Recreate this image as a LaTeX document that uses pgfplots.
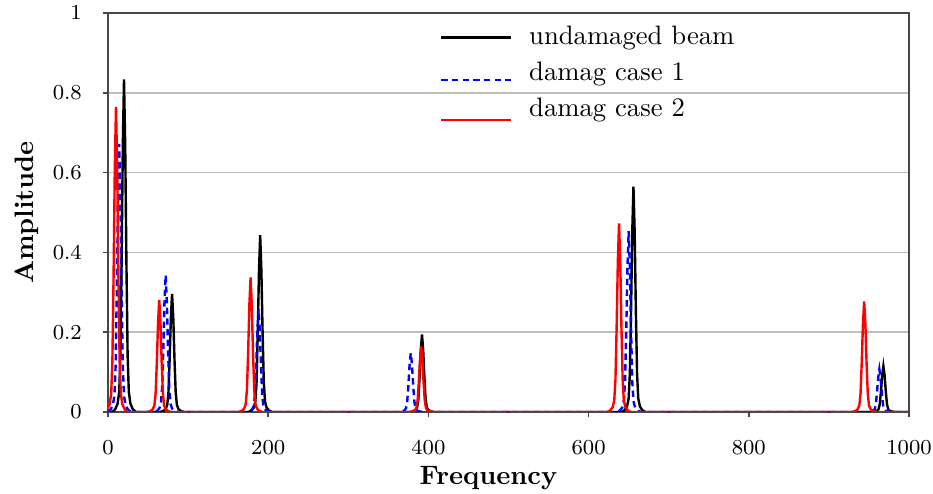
\documentclass[border=0pt]{standalone}
\usepackage{pgfplots}
\pgfplotsset{compat=1.18}
\pgfplotsset{
  limgA/.style={legend image code/.code={\draw[##1] (0pt,0pt) -- (26pt,0pt);}},
  limgB/.style={legend image code/.code={\draw[##1] (0pt,-2.6pt) -- (26pt,-2.6pt);}},
  limgC/.style={legend image code/.code={\draw[##1] (0pt,-4pt) -- (26pt,-4pt);}},
}
\begin{document}
\begin{tikzpicture}
\useasboundingbox (-40.5pt,-30.4pt) rectangle (309.4pt,154.5pt);
\begin{axis}[
  scale only axis,
  width=300.4pt, height=149.6pt,
  xmin=0, xmax=1000, ymin=0, ymax=1,
  xtick={0,200,400,600,800,1000},
  ytick={0,0.2,0.4,0.6,0.8,1},
  /pgf/number format/set thousands separator={},
  tick align=outside,
  xtick pos=bottom, ytick pos=left,
  major tick length=2pt,
  axis line style={draw=black!72, line width=0.75pt},
  tick style={draw=black!72, line width=0.6pt},
  ymajorgrids,
  major grid style={draw=black!25, line width=0.6pt},
  ticklabel style={font=\fontsize{8}{9}\selectfont},
  xticklabel style={yshift=-5.3pt},
  yticklabel style={xshift=-4.3pt},
  xlabel={\bfseries Frequency},
  ylabel={\bfseries Amplitude},
  xlabel style={at={(axis description cs:0.475,-0.165)}, anchor=center},
  ylabel style={at={(axis description cs:-0.101,0.5)}, anchor=center},
  legend style={at={(rel axis cs:0.404,0.995)}, anchor=north west, draw=none, fill=none,
    font=\normalsize, row sep=1pt, /tikz/every odd column/.append style={column sep=4.5pt}},
  legend cell align=left,
]
\addplot[black, line width=0.9pt, limgA] coordinates {
(0,0) (5,0) (9,.0067) (12,.0209) (14,.05) (15.5,.1418) (17,.3753) (18.5,.6672) (20,.834) (21.5,.6672) (23,.3753) (24.5,.1418) (26,.05) (28,.0209) (31,.0067) (35,0)
(65,0)(69,.0024)(72,.0074)(74,.0178)(75.5,.0503)(77,.1332)(78.5,.2368)(80,.296)(81.5,.2368)(83,.1332)(84.5,.0503)(86,.0178)(88,.0074)(91,.0024)(95,0)
(175,0)(179,.0035)(182,.0111)(184,.0266)(185.5,.0753)(187,.1994)(188.5,.3544)(190,.443)(191.5,.3544)(193,.1994)(194.5,.0753)(196,.0266)(198,.0111)(201,.0035)(205,0)
(377,0)(381,.0016)(384,.0049)(386,.0116)(387.5,.033)(389,.0873)(390.5,.1552)(392,.194)(393.5,.1552)(395,.0873)(396.5,.033)(398,.0116)(400,.0049)(403,.0016)(407,0)
(641,0)(645,.0045)(648,.0141)(650,.0339)(651.5,.0961)(653,.2543)(654.5,.452)(656,.565)(657.5,.452)(659,.2543)(660.5,.0961)(662,.0339)(664,.0141)(667,.0045)(671,0)
(953,0)(957,.0009)(960,.0029)(962,.0069)(963.5,.0196)(965,.0518)(966.5,.092)(968,.115)(969.5,.092)(971,.0518)(972.5,.0196)(974,.0069)(976,.0029)(979,.0009)(983,0)(1000,0)
};
\addlegendentry{undamaged beam}
\addplot[blue, line width=0.9pt, dash pattern=on 2.4pt off 1.6pt, limgB] coordinates {
(0,0)(3,.0054)(6,.0168)(8,.0403)(9.5,.1142)(11,.3024)(12.5,.5376)(14,.672)(15.5,.5376)(17,.3024)(18.5,.1142)(20,.0403)(22,.0168)(25,.0054)(29,0)
(57,0)(61,.0027)(64,.0086)(66,.0206)(67.5,.0583)(69,.1544)(70.5,.2744)(72,.343)(73.5,.2744)(75,.1544)(76.5,.0583)(78,.0206)(80,.0086)(83,.0027)(87,0)
(173,0)(177,.0021)(180,.0064)(182,.0154)(183.5,.0437)(185,.1157)(186.5,.2056)(188,.257)(189.5,.2056)(191,.1157)(192.5,.0437)(194,.0154)(196,.0064)(199,.0021)(203,0)
(363,0)(367,.0012)(370,.0037)(372,.0089)(373.5,.0252)(375,.0666)(376.5,.1184)(378,.148)(379.5,.1184)(381,.0666)(382.5,.0252)(384,.0089)(386,.0037)(389,.0012)(393,0)
(635,0)(639,.0036)(642,.0113)(644,.0272)(645.5,.077)(647,.2039)(648.5,.3624)(650,.453)(651.5,.3624)(653,.2039)(654.5,.077)(656,.0272)(658,.0113)(661,.0036)(665,0)
(948,0)(952,.0009)(955,.0027)(957,.0064)(958.5,.0182)(960,.0482)(961.5,.0856)(963,.107)(964.5,.0856)(966,.0482)(967.5,.0182)(969,.0064)(971,.0027)(974,.0009)(978,0)(1000,0)
};
\addlegendentry{damag case 1}
\addplot[red, line width=0.9pt, limgC] coordinates {
(-5,0)(-1,.0061)(2,.0191)(4,.0459)(5.5,.1301)(7,.3443)(8.5,.612)(10,.765)(11.5,.612)(13,.3443)(14.5,.1301)(16,.0459)(18,.0191)(21,.0061)(25,0)
(49,0)(53,.0022)(56,.007)(58,.0169)(59.5,.0478)(61,.1265)(62.5,.2248)(64,.281)(65.5,.2248)(67,.1265)(68.5,.0478)(70,.0169)(72,.007)(75,.0022)(79,0)
(163,0)(167,.0027)(170,.0084)(172,.0202)(173.5,.0573)(175,.1517)(176.5,.2696)(178,.337)(179.5,.2696)(181,.1517)(182.5,.0573)(184,.0202)(186,.0084)(189,.0027)(193,0)
(376,0)(380,.0013)(383,.0041)(385,.0098)(386.5,.0279)(388,.0738)(389.5,.1312)(391,.164)(392.5,.1312)(394,.0738)(395.5,.0279)(397,.0098)(399,.0041)(402,.0013)(406,0)
(623,0)(627,.0038)(630,.0118)(632,.0284)(633.5,.0804)(635,.2129)(636.5,.3784)(638,.473)(639.5,.3784)(641,.2129)(642.5,.0804)(644,.0284)(646,.0118)(649,.0038)(653,0)
(929,0)(933,.0022)(936,.0069)(938,.0166)(939.5,.0471)(941,.1247)(942.5,.2216)(944,.277)(945.5,.2216)(947,.1247)(948.5,.0471)(950,.0166)(952,.0069)(955,.0022)(959,0)(1000,0)
};
\addlegendentry{damag case 2}
\addplot[only marks, mark=square*, mark size=0.35pt, color=violet, forget plot] coordinates {
(100,0)(300,0)(500,0)(700,0)(900,0)};
\end{axis}
\end{tikzpicture}
\end{document}
